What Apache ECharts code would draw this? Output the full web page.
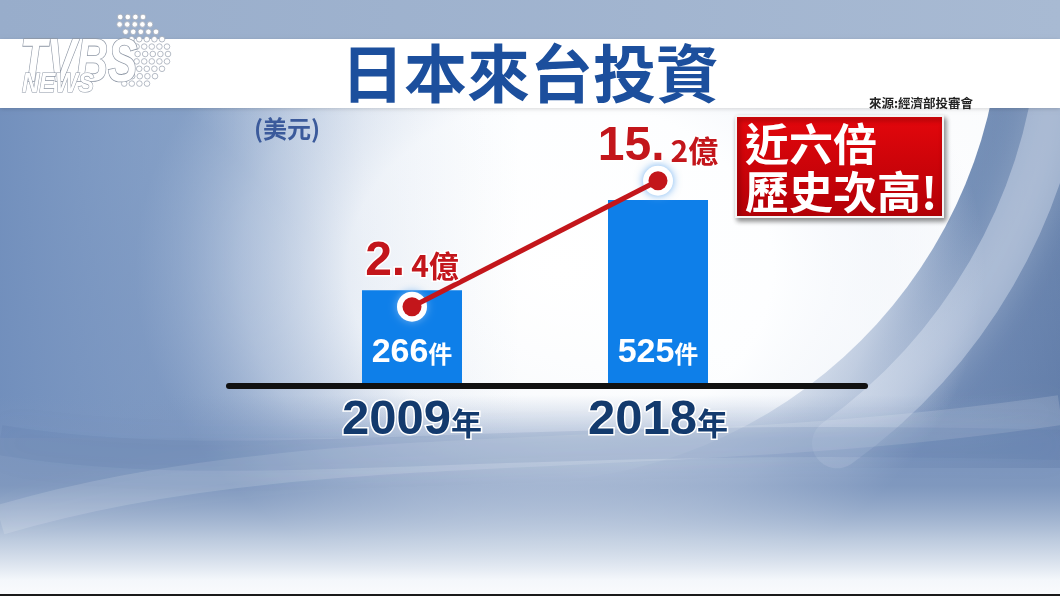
<!DOCTYPE html>
<html><head><meta charset="utf-8">
<script src="https://cdn.jsdelivr.net/npm/echarts@6/dist/echarts.min.js"></script>
<style>html,body{margin:0;padding:0;background:#fff}#c{width:1060px;height:596px}</style>
</head><body><div id="c"></div>
<script>
// ---- data ----
const categories = ['2009', '2018'];
const yearSuffix = '年';
const caseCounts = [266, 525];
const caseSuffix = '件';
const investYi = [2.4, 15.2];
const investSuffix = '億';
const titleText = '日本來台投資';
const sourceText = '來源:經濟部投審會';
const unitText = '(美元)';
const calloutLines = ['近六倍', '歷史次高!'];

const CJK = '"Noto Sans CJK TC", "Noto Sans CJK SC", sans-serif';
const NUM = '"Liberation Sans", Arial, sans-serif';

const chart = echarts.init(document.getElementById('c'), null, {renderer: 'canvas'});

// logo dot matrix (decoration)
const dotRightEnds = [143, 150, 156, 162, 167, 168, 167, 162, 155, 147];
const dotGraphics = [];
dotRightEnds.forEach((xr, r) => {
  const n = (r === 0 || r === 9) ? 4 : 5;
  for (let k = 0; k < n; k++) {
    dotGraphics.push({type: 'circle', z: 5, silent: true, shape: {cx: xr - k * 7.6, cy: 17 + r * 7.4, r: 2.8},
      style: {fill: '#ffffff', stroke: '#a3abb7', lineWidth: 0.8}});
  }
});

function lin(x, y, x2, y2, stops) {
  return {type: 'linear', x: x, y: y, x2: x2, y2: y2, colorStops: stops.map(s => ({offset: s[0], color: s[1]}))};
}
function rad(stops) {
  return {type: 'radial', x: 0.5, y: 0.5, r: 0.5, colorStops: stops.map(s => ({offset: s[0], color: s[1]}))};
}

const option = {
  animation: false,
  backgroundColor: '#c9d5e5',
  graphic: [
    // base blue
    {type: 'rect', z: -20, silent: true, shape: {x: 0, y: 0, width: 1060, height: 596},
      style: {fill: lin(0, 0, 0, 1, [[0, '#8ea6c8'], [0.3, '#8aa3c6'], [0.6, '#8099c0'], [0.75, '#7b95bc'], [1, '#7b95bc']])}},
    // darker right side
    {type: 'rect', z: -19, silent: true, shape: {x: 760, y: 108, width: 300, height: 360},
      style: {fill: lin(0, 0, 1, 0, [[0, 'rgba(70,100,150,0)'], [0.6, 'rgba(70,100,150,0.25)'], [1, 'rgba(60,90,140,0.4)']])}},
    // soft light band outside main curve (right side only)
    {type: 'arc', z: -18, silent: true, shape: {cx: 520, cy: 0, r: 545, startAngle: 0.1, endAngle: 0.95},
      style: {stroke: 'rgba(225,233,244,0.4)', lineWidth: 50, lineCap: 'round', fill: null, shadowColor: 'rgba(255,255,255,0.5)', shadowBlur: 35}},
    // white disc, crisp on the right, fading to the left/bottom
    {type: 'circle', z: -17, silent: true, shape: {cx: 520, cy: 0, r: 482},
      style: {fill: lin(0, 1, 1, 0, [[0, 'rgba(255,255,255,0)'], [0.27, 'rgba(255,255,255,0)'], [0.42, 'rgba(255,255,255,0.95)'], [0.5, '#ffffff'], [1, '#f3f6fa']])}},
    // central white glow
    {type: 'circle', z: -16, silent: true, x: 560, y: 270, scaleX: 1.25, shape: {cx: 0, cy: 0, r: 340},
      style: {fill: rad([[0, 'rgba(255,255,255,1)'], [0.5, 'rgba(253,254,255,0.95)'], [0.75, 'rgba(240,244,250,0.6)'], [1, 'rgba(230,236,245,0)']])}},
    // left blue wash
    {type: 'rect', z: -15, silent: true, shape: {x: 0, y: 108, width: 520, height: 330},
      style: {fill: lin(0, 0, 1, 0, [[0, 'rgba(112,142,188,0.9)'], [0.35, 'rgba(128,156,198,0.55)'], [0.7, 'rgba(160,182,214,0.15)'], [1, 'rgba(170,190,220,0)']])}},
    // bottom waves & fade
    {type: 'rect', z: -14, silent: true, shape: {x: 0, y: 395, width: 1060, height: 201},
      style: {fill: lin(0, 0, 0, 1, [[0, 'rgba(125,150,190,0)'], [0.22, 'rgba(125,150,192,0.5)'], [0.45, 'rgba(130,154,192,0.6)'], [0.72, 'rgba(200,212,228,0.85)'], [0.92, 'rgba(244,247,251,1)'], [1, 'rgba(250,251,253,1)']])}},
    {type: 'bezierCurve', z: -13, silent: true,
      shape: {x1: 0, y1: 520, cpx1: 300, cpy1: 430, cpx2: 650, cpy2: 470, x2: 1060, y2: 410},
      style: {stroke: 'rgba(255,255,255,0.14)', lineWidth: 30, shadowColor: 'rgba(255,255,255,0.35)', shadowBlur: 30, fill: null}},
    {type: 'bezierCurve', z: -13, silent: true,
      shape: {x1: 0, y1: 440, cpx1: 250, cpy1: 480, cpx2: 450, cpy2: 430, x2: 1060, y2: 445},
      style: {stroke: 'rgba(90,120,165,0.16)', lineWidth: 30, shadowColor: 'rgba(90,120,165,0.3)', shadowBlur: 30, fill: null}},
    {type: 'rect', z: -12, silent: true, shape: {x: 0, y: 594, width: 1060, height: 2}, style: {fill: '#1a1a1a'}},
    // top strip and title band
    {type: 'rect', z: -11, silent: true, shape: {x: 0, y: 0, width: 1060, height: 39},
      style: {fill: lin(0, 0, 1, 0, [[0, '#98adcb'], [1, '#a8bad3']])}},
    {type: 'rect', z: -10, silent: true, shape: {x: 0, y: 39, width: 1060, height: 69},
      style: {fill: '#ffffff', shadowColor: 'rgba(0,0,0,0.15)', shadowBlur: 4, shadowOffsetY: 1}},
    ...dotGraphics,
    {type: 'text', z: 6, x: 20, y: 33, scaleY: 1.4, silent: true,
      style: {text: 'TVBS', fill: '#ffffff', font: 'italic bold 44px "Liberation Sans", sans-serif', textBaseline: 'top',
        stroke: '#8e97a5', lineWidth: 1.2, shadowColor: 'rgba(0,0,0,0.4)', shadowBlur: 3, shadowOffsetX: 1, shadowOffsetY: 1}},
    {type: 'text', z: 6, x: 22, y: 71, scaleY: 1.15, silent: true,
      style: {text: 'NEWS', fill: '#ffffff', font: 'italic bold 24px "Liberation Sans", sans-serif', textBaseline: 'top',
        stroke: '#8e97a5', lineWidth: 1, shadowColor: 'rgba(0,0,0,0.4)', shadowBlur: 3, shadowOffsetX: 1, shadowOffsetY: 1}},
    {type: 'group', left: 735, top: 115, z: 10, children: [
      {type: 'rect', shape: {x: 0, y: 0, width: 207, height: 101},
        style: {fill: lin(0, 0, 0, 1, [[0, '#e4070c'], [1, '#b20007']]),
          stroke: '#f4f4f4', lineWidth: 2, shadowColor: 'rgba(0,0,0,0.45)', shadowBlur: 5, shadowOffsetX: 2, shadowOffsetY: 3}},
      {type: 'text', x: 9, y: 4, style: {text: calloutLines.join('\n'), fill: '#ffffff',
        font: 'bold 44px ' + CJK, lineHeight: 48, shadowColor: 'rgba(60,0,0,0.6)', shadowBlur: 2, shadowOffsetX: 1, shadowOffsetY: 1}}
    ]}
  ],
  title: [
    {text: titleText, left: 'center', top: 37,
      textStyle: {color: '#1c4f9d', fontSize: 63, fontWeight: 'bold', fontFamily: CJK}},
    {text: sourceText, left: 864, top: 92,
      textStyle: {color: '#222222', fontSize: 12.5, fontWeight: 'bold', fontFamily: CJK}},
    {text: unitText, left: 249, top: 112,
      textStyle: {color: '#3b5a9b', fontSize: 24, fontWeight: 'bold', fontFamily: CJK}}
  ],
  grid: [
    {left: 289, right: 279, top: 104, bottom: 213},
    {left: 229, right: 195, top: 104, bottom: 210.5}
  ],
  xAxis: [
    {type: 'category', gridIndex: 0, data: categories,
      axisLine: {show: false}, axisTick: {show: false}, splitLine: {show: false},
      axisLabel: {margin: 12, formatter: v => `{a|${v}}{b|${yearSuffix}}`,
        rich: {
          a: {fontFamily: NUM, fontWeight: 'bold', fontSize: 49, color: '#133a6d', textBorderColor: '#ffffff', textBorderWidth: 3, lineHeight: 50, verticalAlign: 'bottom'},
          b: {fontFamily: CJK, fontWeight: 'bold', fontSize: 31, color: '#133a6d', textBorderColor: '#ffffff', textBorderWidth: 3, lineHeight: 30, verticalAlign: 'bottom', padding: [0, 0, 6, 0]}
        }}},
    {type: 'value', gridIndex: 1, min: 0, max: 1, axisLabel: {show: false}, axisTick: {show: false}, splitLine: {show: false},
      axisLine: {show: true, lineStyle: {color: '#111111', width: 6}}}
  ],
  yAxis: [
    {type: 'value', gridIndex: 0, min: 0, max: 800, show: false},
    {type: 'value', gridIndex: 0, min: -5.35, max: 23.0, show: false},
    {type: 'value', gridIndex: 1, min: 0, max: 1, show: false}
  ],
  series: [
    {type: 'bar', xAxisIndex: 0, yAxisIndex: 0, data: caseCounts, barWidth: 100, z: 2,
      itemStyle: {color: '#0e7fe9'},
      label: {show: true, position: 'insideBottom', distance: 13,
        formatter: p => `{a|${p.value}}{b|${caseSuffix}}`,
        rich: {
          a: {fontFamily: NUM, fontWeight: 'bold', fontSize: 34, color: '#ffffff', lineHeight: 34, verticalAlign: 'bottom'},
          b: {fontFamily: CJK, fontWeight: 'bold', fontSize: 24, color: '#ffffff', lineHeight: 22, verticalAlign: 'bottom', padding: [0, 0, 4, 0]}
        }}},
    {type: 'scatter', xAxisIndex: 0, yAxisIndex: 1, data: investYi, z: 3, symbolSize: 30, silent: true,
      itemStyle: {color: '#ffffff', opacity: 1, shadowColor: 'rgba(110,175,240,1)', shadowBlur: 8}},
    {type: 'line', xAxisIndex: 0, yAxisIndex: 1, z: 4,
      data: investYi.map((v, i) => ({value: v, label: {distance: i === 0 ? 11 : 0}})),
      symbol: 'circle', symbolSize: 19,
      lineStyle: {color: '#c3161b', width: 5},
      itemStyle: {color: '#c3161b', borderWidth: 0},
      label: {show: true, position: 'top',
        formatter: p => { const parts = p.value.toFixed(1).split('.'); return `{a|${parts[0]}.}{b|${parts[1]}${investSuffix}}`; },
        rich: {
          a: {fontFamily: NUM, fontWeight: 'bold', fontSize: 48, color: '#c3161b', textBorderColor: '#ffffff', textBorderWidth: 3, lineHeight: 46, verticalAlign: 'bottom', padding: [0, 6, 0, 0]},
          b: {fontFamily: CJK, fontWeight: 'bold', fontSize: 30, color: '#c3161b', textBorderColor: '#ffffff', textBorderWidth: 3, lineHeight: 26, verticalAlign: 'bottom', padding: [0, 0, 6, 0]}
        }}}
  ]
};
chart.setOption(option);
</script></body></html>
